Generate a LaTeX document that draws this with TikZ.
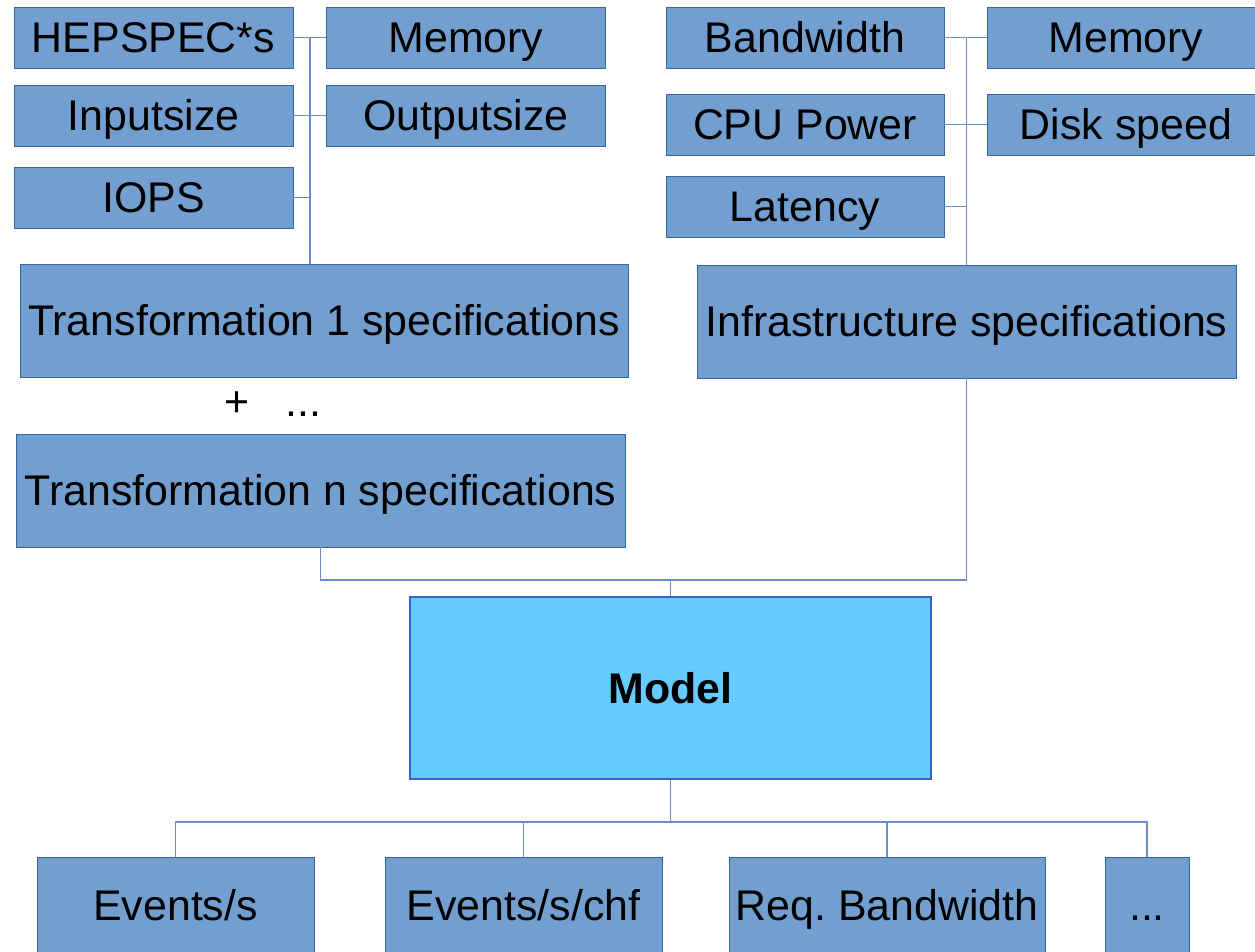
\documentclass[tikz,border=0pt]{standalone}
\usepackage{fontspec}
\setmainfont{Liberation Sans}
\usetikzlibrary{positioning}
\definecolor{boxblue}{HTML}{729FCF}
\definecolor{boxedge}{HTML}{3465A4}
\definecolor{modelfill}{HTML}{66CCFF}
\definecolor{modeledge}{HTML}{3D5FCC}
\definecolor{wire}{HTML}{6A8FC7}
\begin{document}
\begin{tikzpicture}[x=0.2mm,y=-0.2mm,
		every node/.style={inner sep=0pt,font=\fontsize{24.4}{29}\selectfont},
		spec/.style={draw=boxedge,fill=boxblue,line width=0.5pt,minimum width=5.58cm,minimum height=1.22cm,
			text height=17.5pt,text depth=0pt},
		bigspec/.style={spec,minimum height=2.26cm},
		result/.style={spec,minimum height=1.92cm},
		wirestyle/.style={draw=wire,line width=0.8pt}]
		\useasboundingbox (0,0) rectangle (1255,951);
		% transformation side
		\node [spec] (hep) at (153.5,37.5) {HEPSPEC*s};
		\node [spec] (memA) at (466,37.5) {Memory};
		\node [spec] (inp) at (153.5,115.5) {Inputsize};
		\node [spec] (outp) at (466,115.5) {Outputsize};
		\node [spec] (iops) at (153.5,197.5) {IOPS};
		\node [bigspec,minimum width=12.16cm] (tr1) at (324,320.5) {Transformation 1 specifications};
		\node [anchor=base] (plus) at (237.5,416) {+};
		\node [anchor=base] (etc) at (303.5,416) {...};
		\node [bigspec,minimum width=12.18cm] (trn) at (320.5,490.5) {Transformation n specifications};
		% infrastructure side
		\node [spec,minimum width=5.56cm] (bw) at (805,37.5) {Bandwidth};
		\node [spec,minimum width=5.56cm] (memB) at (1126,37.5) {Memory};
		\node [spec,minimum width=5.56cm] (cpu) at (805,124.5) {CPU Power};
		\node [spec,minimum width=5.56cm] (disk) at (1126,124.5) {Disk speed};
		\node [spec,minimum width=5.56cm] (lat) at (805,206.5) {Latency};
		\node [bigspec,minimum width=10.78cm] (infra) at (966.5,321.5) {Infrastructure specifications};
		% model and outputs
		\node [draw=modeledge,fill=modelfill,line width=0.6pt,minimum width=10.42cm,minimum height=3.64cm,
			text height=17.5pt,text depth=0pt,
			font=\fontsize{24.4}{29}\selectfont\bfseries] (model) at (670.5,688) {Model};
		\node [result,minimum width=5.54cm] (ev) at (175.5,905) {Events/s};
		\node [result,minimum width=5.54cm] (chf) at (523.5,905) {Events/s/chf};
		\node [result,minimum width=6.32cm] (req) at (887,905) {Req.\ Bandwidth};
		\node [result,minimum width=1.68cm] (dots) at (1147,905) {...};
		\coordinate (busL) at (310,0);
		\coordinate (top) at (0,580);
		\coordinate (bot) at (0,822);
		% left bus
		\draw [wirestyle] (hep.east) -- (memA.west);
		\draw [wirestyle] (inp.east) -- (outp.west);
		\draw [wirestyle] (iops.east) -- (busL |- iops.east);
		\draw [wirestyle] (busL |- hep.east) -- (busL |- tr1.north);
		% right bus
		\draw [wirestyle] (bw.east) -- (memB.west);
		\draw [wirestyle] (cpu.east) -- (disk.west);
		\draw [wirestyle] (lat.east) -- (lat.east -| infra.north);
		\draw [wirestyle] (infra.north |- bw.east) -- (infra.north);
		% into the model
		\draw [wirestyle] (trn.south) -- (trn.south |- top) -- (infra.south |- top) -- (infra.south);
		\draw [wirestyle] (model.north |- top) -- (model.north);
		% out of the model
		\draw [wirestyle] (model.south) -- (model.south |- bot);
		\draw [wirestyle] (ev.north) -- (ev.north |- bot) -- (dots.north |- bot) -- (dots.north);
		\draw [wirestyle] (chf.north) -- (chf.north |- bot);
		\draw [wirestyle] (req.north) -- (req.north |- bot);
\end{tikzpicture}
\end{document}
